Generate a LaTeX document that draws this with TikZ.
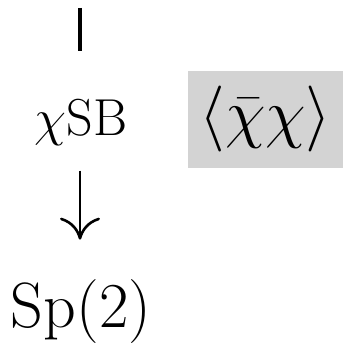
\RequirePackage{fix-cm}
\documentclass[tikz,border=0pt]{standalone}
\usepackage{amsmath}
\usepackage{tikz}
\usetikzlibrary{positioning,arrows.meta}
\definecolor{boxgray}{RGB}{211, 211, 211}

\begin{document}
\begin{tikzpicture}[
    x=0.5pt, y=0.5pt,
    lbl/.style={inner sep=0pt, anchor=base},
    flow/.style={line width=1.3pt},
    cond/.style={fill=boxgray, inner sep=0pt, minimum width=77.5pt, minimum height=48.5pt},
  ]
    \useasboundingbox (0,0) rectangle (357,351);

    % breaking chain
    \node[lbl, font=\fontsize{26}{30}\selectfont] (csb) at (81,215) {$\chi$SB};
    \node[lbl, font=\fontsize{32}{36}\selectfont] (sp) at (81,23) {Sp$(2)$};
    \coordinate (top) at (80,343);

    \draw[flow, line width=2pt, shorten >=24pt] (top) -- (top |- csb.north);
    \draw[flow, -{Computer Modern Rightarrow[length=11pt, width=20pt]},
      shorten <=12pt, shorten >=20pt] (csb.south -| top) -- (sp.north -| top);

    % condensate
    \node[cond, font=\fontsize{33}{38}\selectfont] (vev) at (265.5,231.5)
      {$\langle\bar\chi\chi\rangle$};
\end{tikzpicture}
\end{document}
